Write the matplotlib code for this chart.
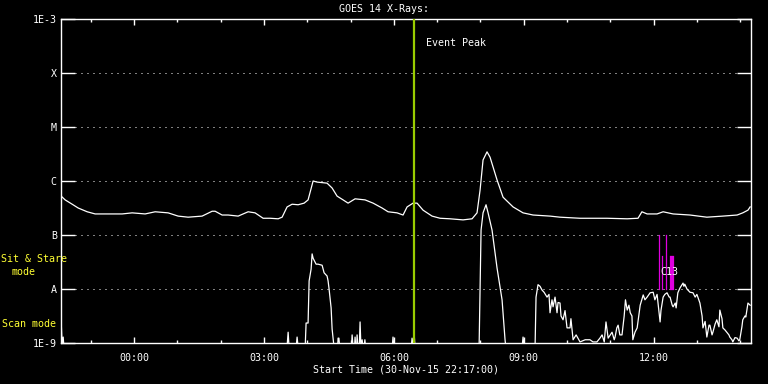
import numpy as np
import matplotlib
matplotlib.use("Agg")
import matplotlib.pyplot as plt
from matplotlib.ticker import FixedLocator, NullLocator

# ---- data (hours relative to 00:00 1-Dec-15, log10 flux W/m^2) ----
long_hours = [-1.686, -1.594, -1.432, -1.293, -1.085, -0.901, -0.670, -0.277, -0.046, 0.254,
              0.485, 0.785, 1.016, 1.247, 1.570, 1.801, 1.871, 2.032, 2.171, 2.402,
              2.633, 2.794, 2.979, 3.141, 3.326, 3.418, 3.533, 3.649, 3.788, 3.926,
              4.018, 4.134, 4.226, 4.457, 4.573, 4.688, 4.827, 4.942, 5.104, 5.335,
              5.520, 5.727, 5.866, 6.074, 6.212, 6.305, 6.443, 6.536, 6.674, 6.882,
              7.067, 7.298, 7.598, 7.806, 7.921, 7.991, 8.060, 8.152, 8.222, 8.383,
              8.522, 8.753, 8.984, 9.215, 9.607, 9.838, 10.30, 10.92, 11.39, 11.64,
              11.73, 11.85, 12.08, 12.22, 12.45, 12.84, 13.23, 13.60, 13.93, 14.06,
              14.18, 14.23]
long_logflux = [-6.28, -6.35, -6.43, -6.50, -6.57, -6.61, -6.61, -6.61, -6.59, -6.61,
                -6.57, -6.59, -6.65, -6.67, -6.65, -6.56, -6.56, -6.63, -6.63, -6.65,
                -6.57, -6.59, -6.69, -6.69, -6.70, -6.67, -6.48, -6.43, -6.44, -6.41,
                -6.35, -6.00, -6.02, -6.04, -6.13, -6.28, -6.35, -6.41, -6.33, -6.35,
                -6.41, -6.50, -6.57, -6.59, -6.63, -6.48, -6.41, -6.41, -6.54, -6.65,
                -6.69, -6.70, -6.72, -6.70, -6.59, -6.17, -5.61, -5.46, -5.56, -5.98,
                -6.30, -6.48, -6.59, -6.63, -6.65, -6.67, -6.69, -6.69, -6.70, -6.69,
                -6.57, -6.61, -6.61, -6.57, -6.61, -6.63, -6.67, -6.65, -6.63, -6.59,
                -6.54, -6.48]

short_hours = [-1.686, -1.66, -1.64, -1.62, 3.53, 3.557, 3.58, 3.74, 3.764, 3.79,
               3.95, 3.972, 4.018, 4.042, 4.088, 4.111, 4.134, 4.203, 4.249, 4.342,
               4.388, 4.457, 4.480, 4.503, 4.550, 4.573, 4.596, 4.62, 4.70, 4.711,
               4.73, 4.75, 5.02, 5.035, 5.06, 5.09, 5.104, 5.12, 5.14, 5.15,
               5.17, 5.20, 5.219, 5.24, 5.266, 5.29, 5.31, 5.33, 5.35, 5.96,
               5.98, 6.00, 6.40, 6.42, 6.45, 6.47, 6.49, 7.968, 8.014, 8.060,
               8.129, 8.176, 8.268, 8.383, 8.499, 8.568, 8.59, 8.96, 8.984, 9.01,
               9.261, 9.284, 9.330, 9.376, 9.423, 9.469, 9.538, 9.584, 9.607, 9.653,
               9.677, 9.723, 9.769, 9.792, 9.838, 9.861, 9.908, 9.954, 10.00, 10.07,
               10.09, 10.14, 10.21, 10.30, 10.42, 10.53, 10.60, 10.69, 10.76, 10.81,
               10.86, 10.90, 10.95, 11.00, 11.04, 11.09, 11.11, 11.15, 11.18, 11.22,
               11.27, 11.32, 11.35, 11.39, 11.43, 11.46, 11.50, 11.52, 11.57, 11.62,
               11.69, 11.76, 11.80, 11.85, 11.92, 11.99, 12.03, 12.08, 12.15, 12.17,
               12.22, 12.26, 12.31, 12.36, 12.38, 12.43, 12.45, 12.50, 12.52, 12.56,
               12.61, 12.68, 12.70, 12.72, 12.77, 12.84, 12.91, 12.96, 13.00, 13.07,
               13.12, 13.14, 13.19, 13.23, 13.28, 13.30, 13.35, 13.37, 13.42, 13.46,
               13.51, 13.53, 13.58, 13.60, 13.65, 13.69, 13.74, 13.76, 13.81, 13.83,
               13.88, 13.93, 13.97, 13.99, 14.04, 14.06, 14.11, 14.13, 14.18, 14.23]
short_logflux = [-8.61, -9.10, -8.89, -9.10, -9.10, -8.80, -9.10, -9.10, -8.89, -9.10,
                 -9.10, -8.63, -8.63, -7.85, -7.63, -7.35, -7.43, -7.54, -7.54, -7.56,
                 -7.70, -7.76, -7.85, -8.00, -8.35, -8.74, -8.91, -9.10, -9.10, -8.91,
                 -8.91, -9.10, -9.10, -8.85, -9.10, -9.10, -8.89, -9.10, -9.10, -8.85,
                 -9.10, -9.10, -8.61, -9.10, -8.94, -9.10, -9.10, -8.94, -9.10, -9.10,
                 -8.89, -9.10, -9.10, -8.91, -9.10, -8.85, -9.10, -9.10, -6.91, -6.59,
                 -6.44, -6.59, -6.91, -7.61, -8.20, -8.94, -9.10, -9.10, -8.89, -9.10,
                 -9.10, -8.15, -7.92, -7.95, -8.02, -8.06, -8.15, -8.10, -8.44, -8.20,
                 -8.33, -8.15, -8.44, -8.25, -8.26, -8.50, -8.57, -8.40, -8.72, -8.72,
                 -8.55, -8.94, -8.85, -8.98, -8.94, -8.94, -8.98, -8.98, -8.91, -8.85,
                 -8.98, -8.61, -8.91, -8.85, -8.80, -8.94, -8.89, -8.72, -8.67, -8.85,
                 -8.85, -8.50, -8.20, -8.39, -8.30, -8.44, -8.50, -8.94, -8.80, -8.72,
                 -8.30, -8.11, -8.20, -8.15, -8.07, -8.06, -8.20, -8.10, -8.61, -8.40,
                 -8.15, -8.10, -8.07, -8.15, -8.15, -8.30, -8.33, -8.26, -8.35, -8.07,
                 -7.98, -7.89, -7.95, -7.91, -8.00, -8.06, -8.07, -8.15, -8.10, -8.26,
                 -8.50, -8.72, -8.60, -8.89, -8.67, -8.67, -8.85, -8.80, -8.65, -8.57,
                 -8.70, -8.39, -8.55, -8.72, -8.76, -8.80, -8.85, -8.89, -8.94, -8.98,
                 -8.90, -8.91, -8.96, -8.94, -8.70, -8.57, -8.50, -8.52, -8.26, -8.30]

# flare markers (magenta): hour, top log flux
marker_hours = [12.12, 12.19, 12.29, 12.38, 12.40, 12.42, 12.44]
marker_top = [-7.0, -7.39, -7.0, -7.39, -7.39, -7.39, -7.39]
marker_bottom = -8.0
marker_label = "C13"

event_peak_hour = 6.47
x_start, x_end = -1.69, 14.25

xtick_hours = [0, 3, 6, 9, 12]
xtick_labels = ["00:00", "03:00", "06:00", "09:00", "12:00"]
ytick_values = [1e-9, 1e-8, 1e-7, 1e-6, 1e-5, 1e-4, 1e-3]
ytick_labels = ["1E-9", "A", "B", "C", "M", "X", "1E-3"]

FONT = "DejaVu Sans Mono"
FS = 7.2

fig = plt.figure(figsize=(7.68, 3.84), dpi=100, facecolor="black")
ax = fig.add_axes([61 / 768, 41 / 384, 690 / 768, 324 / 384], facecolor="black")

ax.plot(long_hours, 10 ** np.array(long_logflux), color="white", lw=0.9, zorder=3)
ax.plot(short_hours, 10 ** np.array(short_logflux), color="white", lw=0.9, zorder=3)

for h, top in zip(marker_hours, marker_top):
    ax.plot([h, h], [10 ** marker_bottom, 10 ** top], color="#e000e0", lw=0.9, zorder=2)
ax.text(12.15, 10 ** -7.69, marker_label, color="white", fontsize=FS, family=FONT,
        ha="left", va="center", zorder=4)

ax.axvline(event_peak_hour, color="#99cc00", lw=1.6, zorder=4)
ax.text(6.74, 10 ** -3.44, "Event Peak", color="white", fontsize=FS, family=FONT,
        ha="left", va="center")

ax.set_yscale("log")
ax.set_ylim(1e-9, 1e-3)
ax.set_xlim(x_start, x_end)

# dotted horizontal grid lines between the inner tick marks
for yv in ytick_values[1:-1]:
    ax.axhline(yv, xmin=14 / 690, xmax=1 - 14 / 690, color="white",
               lw=0.72, ls=(0, (1, 5)), zorder=1)

ax.yaxis.set_major_locator(FixedLocator(ytick_values))
ax.yaxis.set_minor_locator(NullLocator())
ax.set_yticklabels(ytick_labels)
ax.xaxis.set_major_locator(FixedLocator(xtick_hours))
ax.xaxis.set_minor_locator(FixedLocator(list(range(-1, 15))))
ax.set_xticklabels(xtick_labels)

ax.tick_params(axis="y", which="major", direction="in", length=10, width=1,
               color="white", labelcolor="white", left=True, right=True, pad=3,
               labelsize=FS, labelfontfamily=FONT)
ax.tick_params(axis="x", which="major", direction="in", length=4.3, width=1,
               color="white", labelcolor="white", top=True, bottom=True, pad=7,
               labelsize=FS, labelfontfamily=FONT)
ax.tick_params(axis="x", which="minor", direction="in", length=2.2, width=1,
               color="white", top=True, bottom=True)

for s in ax.spines.values():
    s.set_color("white")
    s.set_linewidth(1)

fig.text(384 / 768, 1 - 9 / 384, "GOES 14 X-Rays:", color="white", fontsize=FS,
         family=FONT, ha="center", va="center")
fig.text(406 / 768, 1 - 369 / 384, "Start Time (30-Nov-15 22:17:00)", color="white",
         fontsize=FS, family=FONT, ha="center", va="center")
fig.text(34 / 768, 1 - 259 / 384, "Sit & Stare", color="#ffff33", fontsize=FS,
         family=FONT, ha="center", va="center")
fig.text(24 / 768, 1 - 272 / 384, "mode", color="#ffff33", fontsize=FS,
         family=FONT, ha="center", va="center")
fig.text(2 / 768, 1 - 324 / 384, "Scan mode", color="#ffff33", fontsize=FS,
         family=FONT, ha="left", va="center")

fig.savefig("out.png", dpi=100, facecolor="black")
